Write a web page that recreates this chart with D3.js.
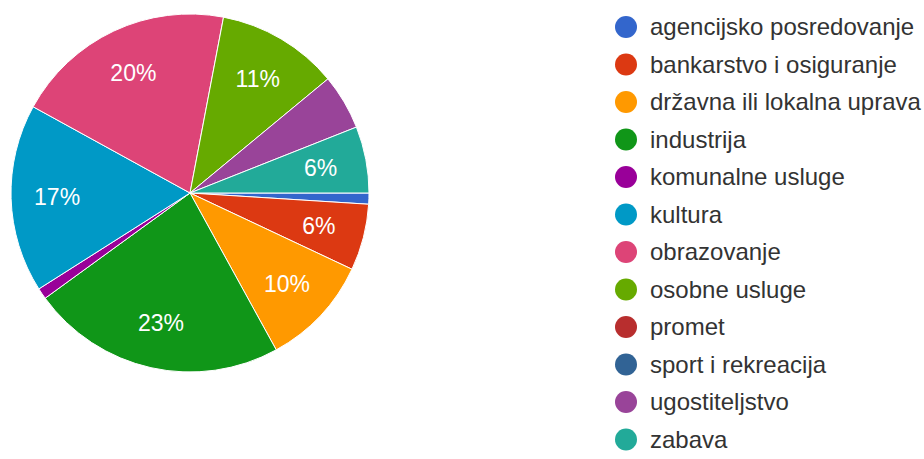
<!DOCTYPE html>
<html>
<head>
<meta charset="utf-8">
<script src="https://cdn.jsdelivr.net/npm/d3@7"></script>
<style>
  body { margin: 0; background: #fff; }
  svg { display: block; }
</style>
</head>
<body>
<svg id="chart" width="924" height="459"></svg>
<script>
// categories and their shares (percent)
const categories = [
    'agencijsko posredovanje',
    'bankarstvo i osiguranje',
    'državna ili lokalna uprava',
    'industrija',
    'komunalne usluge',
    'kultura',
    'obrazovanje',
    'osobne usluge',
    'promet',
    'sport i rekreacija',
    'ugostiteljstvo',
    'zabava'
];
const values = [1, 6, 10, 23, 1, 17, 20, 11, 0, 0, 5, 6];

// google charts palette
const colors = [
    '#3366cc', '#dc3912', '#ff9900', '#109618', '#990099', '#0099c6',
    '#dd4477', '#66aa00', '#b82e2e', '#316395', '#994499', '#22aa99'
];

const labelThreshold = 6; // smaller slices get no text

const svg = d3.select('#chart');
const font = "Arial, 'Liberation Sans', sans-serif";

const cx = 190, cy = 193, radius = 179;
const total = d3.sum(values);

const data = categories.map((name, i) => ({ name, value: values[i], color: colors[i] }));

// pie starts at 3 o'clock, goes clockwise
const pie = d3.pie()
    .value(d => d.value)
    .sort(null)
    .startAngle(Math.PI / 2)
    .endAngle(Math.PI / 2 + 2 * Math.PI);

const arc = d3.arc().innerRadius(0).outerRadius(radius);
const labelArc = d3.arc().innerRadius(133).outerRadius(133);

const arcs = pie(data).filter(d => d.data.value > 0);

const g = svg.append('g').attr('transform', `translate(${cx},${cy})`);

g.selectAll('path')
    .data(arcs)
    .enter()
    .append('path')
    .attr('d', arc)
    .attr('fill', d => d.data.color)
    .attr('stroke', '#fff')
    .attr('stroke-width', 1);

g.selectAll('text')
    .data(arcs.filter(d => Math.round(d.data.value / total * 100) >= labelThreshold))
    .enter()
    .append('text')
    .attr('transform', d => `translate(${labelArc.centroid(d)})`)
    .attr('text-anchor', 'middle')
    .attr('dy', '0.36em')
    .attr('fill', '#fff')
    .attr('font-family', font)
    .attr('font-size', '23px')
    .text(d => Math.round(d.data.value / total * 100) + '%');

// legend
const legend = svg.append('g').attr('transform', 'translate(626,27)');

const rows = legend.selectAll('g')
    .data(data)
    .enter()
    .append('g')
    .attr('transform', (d, i) => `translate(0,${i * 37.5})`);

rows.append('circle')
    .attr('r', 11)
    .attr('fill', d => d.color);

rows.append('text')
    .attr('x', 24)
    .attr('dy', '0.34em')
    .attr('fill', '#333')
    .attr('font-family', font)
    .attr('font-size', '24px')
    .text(d => d.name);
</script>
</body>
</html>
